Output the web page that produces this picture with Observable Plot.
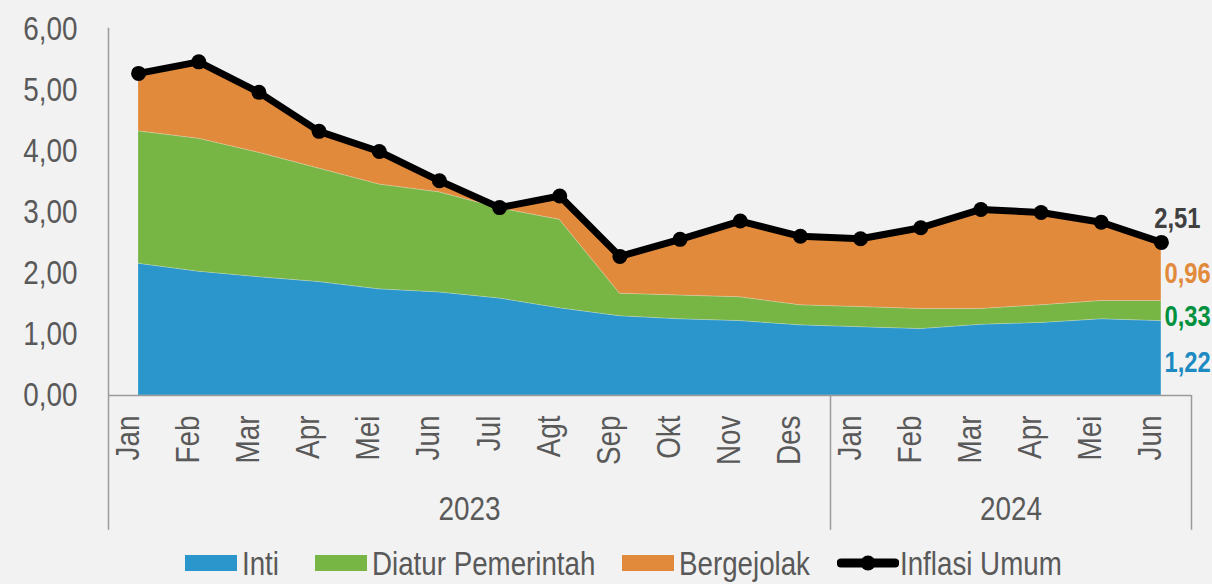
<!DOCTYPE html>
<html>
<head>
<meta charset="utf-8">
<script src="https://cdn.jsdelivr.net/npm/d3@7"></script>
<script src="https://cdn.jsdelivr.net/npm/@observablehq/plot@0.6"></script>
<style>
  html, body { margin: 0; padding: 0; background: #F2F2F2; }
  body { width: 1212px; height: 584px; overflow: hidden; position: relative;
         font-family: "Liberation Sans", Arial, sans-serif; }
  #legend { position: absolute; left: 0; top: 542px; width: 1212px; height: 42px; color: #595959; font-size: 33px; line-height: 1; }
  .item { position: absolute; top: 0; display: flex; align-items: center; height: 42px; white-space: nowrap; }
  .sw { width: 52px; height: 16px; margin-right: 5px; flex: none; }
  .lt { display: inline-block; transform: scaleX(0.84); transform-origin: left center; }
</style>
</head>
<body>
<div id="chart"></div>
<div id="legend"></div>
<script>
// ---- data ----
const months = ["Jan","Feb","Mar","Apr","Mei","Jun","Jul","Agt","Sep","Okt","Nov","Des","Jan","Feb","Mar","Apr","Mei","Jun"];
const years = ["2023","2024"];
const monthsPerYear = [12, 6];
const seriesNames = ["Inti", "Diatur Pemerintah", "Bergejolak"];
const seriesColors = ["#2A96CB", "#77B545", "#E28A3B"];
const labelColors = ["#1D8BC2", "#00913F", "#E28A3B"];
const inti       = [2.16,2.03,1.94,1.86,1.74,1.69,1.59,1.43,1.30,1.25,1.22,1.15,1.12,1.09,1.16,1.19,1.25,1.22];
const diatur     = [2.17,2.18,2.04,1.86,1.72,1.64,1.48,1.45,0.37,0.39,0.39,0.33,0.33,0.33,0.26,0.29,0.30,0.33];
const bergejolak = [0.95,1.26,0.99,0.61,0.54,0.19,0.01,0.39,0.61,0.92,1.25,1.13,1.12,1.33,1.63,1.52,1.29,0.96];
const umum       = [5.28,5.47,4.97,4.33,4.00,3.52,3.08,3.27,2.28,2.56,2.86,2.61,2.57,2.75,3.05,3.00,2.84,2.51];
const lineName = "Inflasi Umum";
const yTicks = [0,1,2,3,4,5,6];

// ---- derived tables ----
const comps = [inti, diatur, bergejolak];
const long = [];
comps.forEach((vals, s) => vals.forEach((v, i) => long.push({i, series: seriesNames[s], value: v})));
const lineData = umum.map((v, i) => ({i, value: v}));
const monthData = months.map((m, i) => ({i, m}));
const fmt = d => d.toFixed(2).replace(".", ",");

let start = 0;
const yearData = years.map((y, k) => {
  const s = start; start += monthsPerYear[k];
  return {y, mid: (s + start - 1) / 2, end: start - 0.5};
});

const last = months.length - 1;
let cum = 0;
const endLabels = comps.map((vals, s) => {
  const v = vals[last]; const mid = cum + v / 2; cum += v;
  return {i: last, y: mid, text: fmt(v), color: labelColors[s], k: s};
});
const endDy = [4, 6, 2];

const n = months.length;
const font = '"Liberation Sans", Arial, sans-serif';
const axisColor = "#9A9A9A";
const yBottomExt = -2.21;

const plot = Plot.plot({
  width: 1212,
  height: 540,
  marginLeft: 108,
  marginRight: 21,
  marginTop: 29,
  marginBottom: 145,
  style: {background: "#F2F2F2", fontFamily: font, fontSize: "34px", color: "#595959", overflow: "visible"},
  x: {domain: [-0.5, n - 0.5], axis: null},
  y: {domain: [0, 6], axis: null},
  color: {domain: seriesNames, range: seriesColors},
  marks: [
    Plot.areaY(long, {x: "i", y: "value", fill: "series", order: seriesNames, stroke: "#F2F2F2", strokeWidth: 0.4, strokeOpacity: 0.6}),
    Plot.axisY({ticks: yTicks, tickFormat: fmt, tickSize: 0, tickPadding: 31, fontSize: 34, label: null}),
    Plot.ruleY([0], {x1: -0.5, x2: n - 0.5, stroke: axisColor, strokeWidth: 1.5}),
    Plot.ruleX([-0.5], {y1: yBottomExt, y2: 6.02, stroke: axisColor, strokeWidth: 1.5}),
    Plot.ruleX(yearData, {x: "end", y1: yBottomExt, y2: 0, stroke: axisColor, strokeWidth: 1.5}),
    Plot.text(monthData, {x: "i", text: "m", frameAnchor: "bottom", dy: 20, rotate: -90, textAnchor: "end", fontSize: 34, fill: "#595959"}),
    Plot.text(yearData, {x: "mid", text: "y", frameAnchor: "bottom", dy: 124, fontSize: 34, fill: "#595959"}),
    Plot.lineY(lineData, {x: "i", y: "value", stroke: "#000", strokeWidth: 7, strokeLinejoin: "round"}),
    Plot.dot(lineData, {x: "i", y: "value", r: 7.5, fill: "#000"}),
    Plot.text([lineData[last]], {x: "i", y: "value", text: d => fmt(d.value), dx: 16, dy: -24, fontSize: 29, fontWeight: "bold", fill: "#404040"}),
    Plot.text(endLabels, {x: "i", y: d => d.y, text: "text", fill: "color", dx: 3, textAnchor: "start", fontSize: 29, fontWeight: "bold"})
  ]
});
document.getElementById("chart").appendChild(plot);

// narrow the glyphs (Arial Narrow look)
d3.select(plot).selectAll("text").each(function() {
  const el = this;
  let t = el.getAttribute("transform");
  if (!t) {
    const x = +(el.getAttribute("x") || 0), y = +(el.getAttribute("y") || 0);
    el.removeAttribute("x"); el.removeAttribute("y");
    t = `translate(${x},${y})`;
  }
  el.setAttribute("transform", t + " scale(0.82,1)");
});
// end label vertical offsets
d3.select(plot).selectAll("text").filter(function() { return ["0,96","0,33","1,22"].includes(this.textContent); })
  .each(function() {
    const k = ["1,22","0,33","0,96"].indexOf(this.textContent);
    this.setAttribute("transform", this.getAttribute("transform").replace(/translate\(([^,]+),([^)]+)\)/, (m, a, b) => `translate(${a},${+b + endDy[k]})`));
  });

// ---- legend ----
const legend = document.getElementById("legend");
const positions = [185, 315, 622, 837];
seriesNames.forEach((name, k) => {
  const it = document.createElement("div");
  it.className = "item";
  it.style.left = positions[k] + "px";
  it.innerHTML = `<span class="sw" style="background:${seriesColors[k]}"></span><span class="lt">${name}</span>`;
  legend.appendChild(it);
});
const li = document.createElement("div");
li.className = "item";
li.style.left = positions[3] + "px";
li.innerHTML = `<svg width="62" height="20" style="margin-right:1px;flex:none"><line x1="4" y1="10" x2="58" y2="10" stroke="#000" stroke-width="9" stroke-linecap="round"/><circle cx="31" cy="10" r="7.5" fill="#000"/></svg><span class="lt">${lineName}</span>`;
legend.appendChild(li);
</script>
</body>
</html>
